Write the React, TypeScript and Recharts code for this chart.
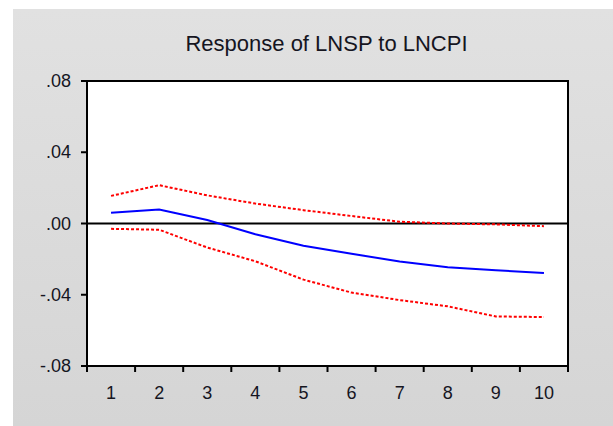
import { LineChart, Line, XAxis, YAxis, CartesianGrid, ReferenceLine, ReferenceArea } from 'recharts';

// impulse response periods
const periods = [1, 2, 3, 4, 5, 6, 7, 8, 9, 10];
const response = [0.006, 0.0078, 0.002, -0.006, -0.0125, -0.017, -0.0213, -0.0245, -0.0262, -0.0278];
const upperBand = [0.0155, 0.0215, 0.0158, 0.0112, 0.0075, 0.0042, 0.001, 0.0, -0.0005, -0.0015];
const lowerBand = [-0.003, -0.0035, -0.0135, -0.0212, -0.0315, -0.0388, -0.043, -0.0465, -0.0522, -0.0525];

const yTicks = [-0.08, -0.04, 0, 0.04, 0.08];
const xBoundaries = [0.5, 1.5, 2.5, 3.5, 4.5, 5.5, 6.5, 7.5, 8.5, 9.5, 10.5];

const title = 'Response of LNSP to LNCPI';

const data = periods.map((p, i) => ({
  period: p,
  response: response[i],
  upper: upperBand[i],
  lower: lowerBand[i],
}));

const fmtY = (v: number) => (v < 0 ? '-' : '') + Math.abs(v).toFixed(2).replace(/^0/, '');

const FONT = '"Liberation Sans", Arial, sans-serif';

const YTick = ({ x, y, payload }: any) => (
  <text x={x - 8} y={y} dy={6} textAnchor="end" fontSize={18} fontFamily={FONT} fill="#15151f">
    {fmtY(payload.value)}
  </text>
);

const XLabel = ({ x, y, payload }: any) => (
  <text x={x} y={y} dy={17} textAnchor="middle" fontSize={18} fontFamily={FONT} fill="#15151f">
    {payload.value}
  </text>
);

const App = () => {
  return (
    <div style={{ position: 'fixed', left: 0, top: 0, width: 613, height: 426, background: '#fff' }}>
      <div
        style={{
          position: 'absolute',
          left: 13,
          top: 9,
          width: 600,
          height: 417,
          background: 'linear-gradient(#e1e1e1, #d5d5d5)',
        }}
      />
      <div
        style={{
          position: 'absolute',
          left: 0,
          top: 31,
          width: 653,
          textAlign: 'center',
          fontFamily: FONT,
          fontSize: 22,
          color: '#15151f',
        }}
      >
        {title}
      </div>
      <div style={{ position: 'absolute', left: 0, top: 0 }}>
        <LineChart width={613} height={426} data={data} margin={{ top: 81, right: 45, bottom: 20, left: 27 }}>
          <CartesianGrid horizontal={false} vertical={false} fill="#fff" fillOpacity={1} />
          <XAxis
            dataKey="period"
            type="number"
            domain={[0.5, 10.5]}
            ticks={xBoundaries}
            tickFormatter={() => ''}
            tickSize={6}
            height={8}
            axisLine={{ stroke: '#000', strokeWidth: 2 }}
            tickLine={{ stroke: '#000', strokeWidth: 2 }}
            interval={0}
          />
          <XAxis
            xAxisId="labels"
            dataKey="period"
            type="number"
            domain={[0.5, 10.5]}
            ticks={periods}
            tick={<XLabel />}
            tickLine={false}
            axisLine={false}
            height={32}
            interval={0}
          />
          <YAxis
            type="number"
            domain={[-0.08, 0.08]}
            ticks={yTicks}
            tick={<YTick />}
            tickSize={6}
            width={60}
            axisLine={{ stroke: '#000', strokeWidth: 2 }}
            tickLine={{ stroke: '#000', strokeWidth: 2 }}
            interval={0}
          />
          <ReferenceArea x1={0.5} x2={10.5} y1={-0.08} y2={0.08} fill="none" fillOpacity={0} stroke="#000" strokeWidth={2} />
          <ReferenceLine y={0} stroke="#000" strokeWidth={2} />
          <Line dataKey="upper" stroke="#ff0000" strokeWidth={2} strokeDasharray="3 2" dot={false} isAnimationActive={false} />
          <Line dataKey="lower" stroke="#ff0000" strokeWidth={2} strokeDasharray="3 2" dot={false} isAnimationActive={false} />
          <Line dataKey="response" stroke="#0000ff" strokeWidth={2} dot={false} isAnimationActive={false} />
        </LineChart>
      </div>
    </div>
  );
};

export default App;
